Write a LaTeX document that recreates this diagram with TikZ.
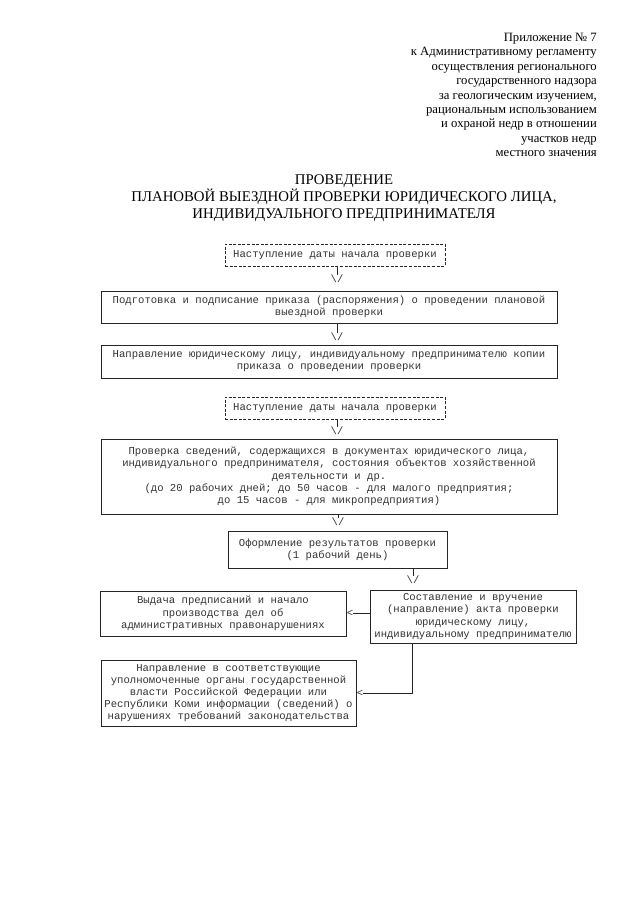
\documentclass[tikz,border=0pt]{standalone}
\usepackage{fontspec}
\setmainfont{Liberation Serif}
\newfontfamily\boxfont{Liberation Mono}
\begin{document}
\begin{tikzpicture}[x=1pt,y=-1pt,
  box/.style={draw=black!85, line width=0.8pt, inner sep=0pt, align=center,
    font=\boxfont\fontsize{10.6}{12.2}\selectfont, text=black!80},
  dbox/.style={box, dash pattern=on 3pt off 1.6pt},
  glyph/.style={inner sep=0pt, font=\boxfont\fontsize{10.6}{12.2}\selectfont, text=black!80},
  conn/.style={draw=black!85, line width=0.8pt}
]
\path[use as bounding box, fill=white] (0,0) rectangle (640,905);

% header
\node[anchor=north east, align=right, inner sep=0pt,
  font=\fontsize{12.7}{14.4}\selectfont] (hdr) at (597,33)
  {Приложение № 7\\
   к Административному регламенту\\
   осуществления регионального\\
   государственного надзора\\
   за геологическим изучением,\\
   рациональным использованием\\
   и охраной недр в отношении\\
   участков недр\\
   местного значения};

% title
\node[align=center, inner sep=0pt, font=\fontsize{14.8}{17}\selectfont] (title) at (344,198)
  {ПРОВЕДЕНИЕ\\
   ПЛАНОВОЙ ВЫЕЗДНОЙ ПРОВЕРКИ ЮРИДИЧЕСКОГО ЛИЦА,\\
   ИНДИВИДУАЛЬНОГО ПРЕДПРИНИМАТЕЛЯ};

% boxes
\node[dbox, minimum width=220pt, minimum height=22pt] (b1) at (335,255)
  {Наступление даты начала проверки};
\node[box, minimum width=456pt, minimum height=32pt] (b2) at (329,307)
  {Подготовка и подписание приказа (распоряжения) о проведении плановой\\
   выездной проверки};
\node[box, minimum width=456pt, minimum height=33pt] (b3) at (329,361.5)
  {Направление юридическому лицу, индивидуальному предпринимателю копии\\
   приказа о проведении проверки};
\node[dbox, minimum width=220pt, minimum height=22pt] (b4) at (335,408)
  {Наступление даты начала проверки};
\node[box, minimum width=456pt, minimum height=75pt] (b5) at (329,476.5)
  {Проверка сведений, содержащихся в документах юридического лица,\\
   индивидуального предпринимателя, состояния объектов хозяйственной\\
   деятельности и др.\\
   (до 20 рабочих дней; до 50 часов - для малого предприятия;\\
   до 15 часов - для микропредприятия)};
\node[box, minimum width=219pt, minimum height=37pt] (b6) at (337.5,549.5)
  {Оформление результатов проверки\\
   (1 рабочий день)};
\node[box, minimum width=206pt, minimum height=53pt] (b7) at (473,616.5)
  {Составление и вручение\\
   (направление) акта проверки\\
   юридическому лицу,\\
   индивидуальному предпринимателю};
\node[box, minimum width=246pt, minimum height=45pt] (b8) at (223,613.5)
  {Выдача предписаний и начало\\
   производства дел об\\
   административных правонарушениях};
\node[box, minimum width=255pt, minimum height=66pt] (b9) at (228.5,693)
  {Направление в соответствующие\\
   уполномоченные органы государственной\\
   власти Российской Федерации или\\
   Республики Коми информации (сведений) о\\
   нарушениях требований законодательства};

% arrow glyphs
\node[glyph] (a1) at (337,279) {\textbackslash/};
\node[glyph] (a2) at (337,337) {\textbackslash/};
\node[glyph] (a3) at (337,431) {\textbackslash/};
\node[glyph] (a4) at (338,522) {\textbackslash/};
\node[glyph] (a5) at (413,580) {\textbackslash/};
\node[glyph] (l1) at (350,613.5) {<};
\node[glyph] (l2) at (360,693) {<};
\coordinate (k) at (412,693);

% connectors
\draw[conn] (b1.south -| a1.north) -- (a1.north);
\draw[conn] (b2.south -| a2.north) -- (a2.north);
\draw[conn] (b4.south -| a3.north) -- (a3.north);
\draw[conn] (b5.south -| a4.north) -- (a4.north);
\draw[conn] (b6.south -| a5.north) -- (a5.north);
\draw[conn] (b7.west |- l1.east) -- (l1.east);
\draw[conn] (b7.south -| k) |- (l2.east);
\end{tikzpicture}
\end{document}
